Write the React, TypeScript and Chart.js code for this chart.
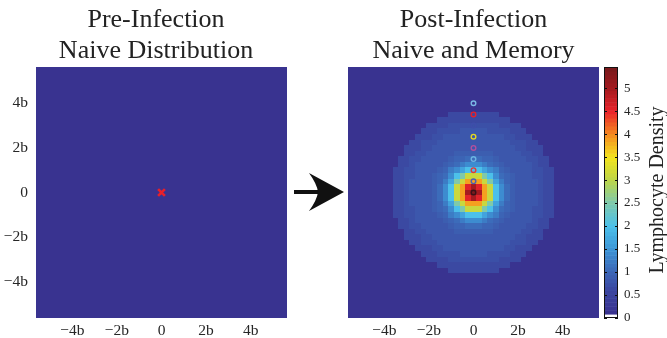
import React, { useEffect, useRef } from 'react';
import { Chart, registerables } from 'chart.js';

Chart.register(...registerables);

// ---------- data ----------
const axisTickValues = [-4, -2, 0, 2, 4];
const axisMin = -5.625;
const axisMax = 5.625;
const cellSize = 0.25;
const gridHalfCount = 22;

const preTitle = ['Pre-Infection', 'Naive Distribution'];
const postTitle = ['Post-Infection', 'Naive and Memory'];
const colorbarLabel = 'Lymphocyte Density';

// uniform naive density before infection
const naiveDensity = 0.1;
// post-infection density by ring (index = round(2 * distance in cells))
const ringDensity = [
  5.4, 5.2, 5.0, 4.55, 3.9, 3.6, 3.15, 2.5, 2.0, 1.7,
  1.45, 1.2, 1.05, 0.95, 0.9, 0.86, 0.84, 0.82, 0.8, 0.8,
  0.82, 0.8, 0.78, 0.75, 0.72, 0.7, 0.68, 0.66, 0.64, 0.62,
];
const outsideDensity = 0.1;

const infectionSite = [{ x: 0, y: 0 }];
const memoryY = [0, 0.5, 1, 1.5, 2, 2.5, 3, 3.5, 4];
const memoryColors = [
  '#3a1218', '#4a62b4', '#e23a3a', '#6cb4e2', '#b2509e',
  '#e4d820', '#3e4eaa', '#e8202a', '#7ab8e6',
];

const colorbarTicks = [0, 0.5, 1, 1.5, 2, 2.5, 3, 3.5, 4, 4.5, 5];
const densityMax = 5.46;
const colorLevels = 64;

// colormap stops [value, r, g, b]
const colorStops: number[][] = [
  [0.09, 57, 49, 143],
  [0.6, 59, 70, 160],
  [1.0, 60, 102, 182],
  [1.5, 61, 149, 214],
  [2.0, 76, 192, 234],
  [2.5, 125, 201, 173],
  [3.0, 188, 213, 74],
  [3.5, 243, 228, 27],
  [4.0, 245, 139, 33],
  [4.5, 233, 35, 42],
  [5.0, 164, 26, 31],
  [5.46, 118, 26, 28],
];

// ---------- helpers ----------
const FONT = '"Liberation Serif", "Times New Roman", serif';
const TEXT_COLOR = '#262626';

function levelColor(level: number): string {
  if (level <= 0) return '#ffffff';
  const v = ((level + 0.5) / colorLevels) * densityMax;
  if (v <= colorStops[0][0]) {
    const s = colorStops[0];
    return `rgb(${s[1]},${s[2]},${s[3]})`;
  }
  for (let i = 1; i < colorStops.length; i++) {
    const a = colorStops[i - 1];
    const b = colorStops[i];
    if (v <= b[0]) {
      const t = (v - a[0]) / (b[0] - a[0]);
      const c = [1, 2, 3].map((k) => Math.round(a[k] + (b[k] - a[k]) * t));
      return `rgb(${c[0]},${c[1]},${c[2]})`;
    }
  }
  const s = colorStops[colorStops.length - 1];
  return `rgb(${s[1]},${s[2]},${s[3]})`;
}

function valueColor(v: number): string {
  const level = Math.max(0, Math.min(colorLevels - 1, Math.floor((v / densityMax) * colorLevels)));
  return levelColor(level);
}

type Cell = { x: number; y: number; v: number };

function buildCells(density: (i: number, j: number) => number): Cell[] {
  const cells: Cell[] = [];
  for (let i = -gridHalfCount; i <= gridHalfCount; i++) {
    for (let j = -gridHalfCount; j <= gridHalfCount; j++) {
      cells.push({ x: i * cellSize, y: j * cellSize, v: density(i, j) });
    }
  }
  return cells;
}

const preCells = buildCells(() => naiveDensity);
const postCells = buildCells((i, j) => {
  const k = Math.round(2 * Math.sqrt(i * i + j * j));
  return k < ringDensity.length ? ringDensity[k] : outsideDensity;
});

function heatmapPlugin(cells: Cell[]) {
  return {
    id: 'heatmap',
    beforeDatasetsDraw(chart: any) {
      const { ctx, chartArea } = chart;
      const xs = chart.scales.x;
      const ys = chart.scales.y;
      ctx.save();
      ctx.beginPath();
      ctx.rect(chartArea.left, chartArea.top, chartArea.right - chartArea.left, chartArea.bottom - chartArea.top);
      ctx.clip();
      for (const c of cells) {
        const x0 = Math.round(xs.getPixelForValue(c.x - cellSize / 2));
        const x1 = Math.round(xs.getPixelForValue(c.x + cellSize / 2));
        const y0 = Math.round(ys.getPixelForValue(c.y + cellSize / 2));
        const y1 = Math.round(ys.getPixelForValue(c.y - cellSize / 2));
        ctx.fillStyle = valueColor(c.v);
        ctx.fillRect(x0, y0, x1 - x0, y1 - y0);
      }
      ctx.restore();
    },
  };
}

function titlePlugin(lines: string[], centerX: number) {
  return {
    id: 'panelTitle',
    afterDraw(chart: any) {
      const ctx = chart.ctx;
      ctx.save();
      ctx.font = `26px ${FONT}`;
      ctx.fillStyle = '#222222';
      ctx.textAlign = 'center';
      ctx.textBaseline = 'alphabetic';
      const baselines = [27, 58];
      lines.forEach((t, i) => ctx.fillText(t, centerX, baselines[i]));
      ctx.restore();
    },
  };
}

const arrowPlugin = {
  id: 'arrow',
  afterDraw(chart: any) {
    const ctx = chart.ctx;
    ctx.save();
    ctx.fillStyle = '#111111';
    ctx.fillRect(294, 190, 24, 4);
    ctx.beginPath();
    ctx.moveTo(344, 192);
    ctx.lineTo(309, 173);
    ctx.quadraticCurveTo(317, 184, 318, 192);
    ctx.quadraticCurveTo(317, 200, 309, 211);
    ctx.closePath();
    ctx.fill();
    ctx.restore();
  },
};

function tickLabel(v: number): string {
  if (v === 0) return '0';
  return (v < 0 ? '\u2212' : '') + Math.abs(v) + 'b';
}

function axisScale(showLabels: boolean, isX: boolean) {
  return {
    type: 'linear',
    min: axisMin,
    max: axisMax,
    display: true,
    grid: { display: false, drawTicks: false },
    border: { display: false },
    ticks: {
      font: { family: FONT, size: 15.5 },
      color: showLabels ? TEXT_COLOR : 'rgba(0,0,0,0)',
      padding: isX ? 4 : 8,
      maxRotation: 0,
      callback: (v: any) => (showLabels ? tickLabel(Number(v)) : ''),
    },
    afterBuildTicks: (s: any) => {
      s.ticks = axisTickValues.map((v) => ({ value: v }));
    },
    afterFit: (s: any) => {
      if (isX) s.height = 20;
      else s.width = 36;
    },
  };
}

const baseOptions = {
  responsive: false,
  animation: false,
  events: [],
  plugins: { legend: { display: false }, tooltip: { enabled: false }, title: { display: false } },
};

function ChartCanvas({ width, left, config }: { width: number; left: number; config: () => any }) {
  const ref = useRef<HTMLCanvasElement | null>(null);
  useEffect(() => {
    if (!ref.current) return;
    const chart = new Chart(ref.current, config());
    return () => chart.destroy();
  }, []);
  return (
    <canvas
      ref={ref}
      width={width}
      height={338}
      style={{ position: 'absolute', left, top: 0, width, height: 338 }}
    />
  );
}

const preConfig = () => ({
  type: 'scatter',
  data: {
    datasets: [
      {
        data: infectionSite,
        pointStyle: 'crossRot',
        pointRadius: 4.8,
        borderWidth: 2.6,
        borderColor: '#e8202a',
        backgroundColor: '#e8202a',
      },
    ],
  },
  options: {
    ...baseOptions,
    layout: { padding: { top: 67, right: 59, left: 0, bottom: 0 } },
    scales: { x: axisScale(true, true), y: axisScale(true, false) },
  },
  plugins: [heatmapPlugin(preCells), titlePlugin(preTitle, 156), arrowPlugin],
});

const postLeft = 312;
const postWidth = 328;

const postConfig = () => ({
  type: 'scatter',
  data: {
    datasets: [
      {
        data: memoryY.map((y) => ({ x: 0, y })),
        pointStyle: 'circle',
        pointRadius: 2.3,
        borderWidth: 1.4,
        borderColor: memoryColors,
        backgroundColor: 'rgba(0,0,0,0)',
      },
    ],
  },
  options: {
    ...baseOptions,
    layout: { padding: { top: 67, right: postLeft + postWidth - 599, left: 0, bottom: 0 } },
    scales: { x: axisScale(true, true), y: axisScale(false, false) },
  },
  plugins: [heatmapPlugin(postCells), titlePlugin(postTitle, 473.5 - postLeft)],
});

const colorbarPlugin = {
  id: 'colorbar',
  beforeDatasetsDraw(chart: any) {
    const { ctx, chartArea } = chart;
    const ys = chart.scales.y;
    ctx.save();
    for (let l = 0; l < colorLevels; l++) {
      const v0 = (l / colorLevels) * densityMax;
      const v1 = ((l + 1) / colorLevels) * densityMax;
      const y0 = ys.getPixelForValue(v1);
      const y1 = ys.getPixelForValue(v0);
      ctx.fillStyle = levelColor(l);
      ctx.fillRect(chartArea.left, y0, chartArea.right - chartArea.left, y1 - y0 + 0.5);
    }
    ctx.strokeStyle = '#111111';
    ctx.lineWidth = 1;
    ctx.strokeRect(chartArea.left + 0.5, chartArea.top + 0.5, chartArea.right - chartArea.left - 1, chartArea.bottom - chartArea.top - 1);
    ctx.beginPath();
    for (const t of colorbarTicks) {
      const y = Math.round(ys.getPixelForValue(t)) + 0.5;
      ctx.moveTo(chartArea.right - 3, y);
      ctx.lineTo(chartArea.right, y);
      ctx.moveTo(chartArea.left, y);
      ctx.lineTo(chartArea.left + 3, y);
    }
    ctx.stroke();
    ctx.font = `20px ${FONT}`;
    ctx.fillStyle = '#222222';
    ctx.textAlign = 'center';
    ctx.textBaseline = 'middle';
    ctx.translate(58, 190);
    ctx.rotate(-Math.PI / 2);
    ctx.fillText(colorbarLabel, 0, 0);
    ctx.restore();
  },
};

const colorbarConfig = () => ({
  type: 'scatter',
  data: { datasets: [{ data: [] }] },
  options: {
    ...baseOptions,
    layout: { padding: { top: 67, right: 0, left: 4, bottom: 20 } },
    scales: {
      x: { type: 'linear', display: false, min: 0, max: 1 },
      y: {
        type: 'linear',
        position: 'right',
        min: 0,
        max: densityMax,
        grid: { display: false, drawTicks: false },
        border: { display: false },
        ticks: {
          font: { family: FONT, size: 13 },
          color: TEXT_COLOR,
          padding: 6,
          callback: (v: any) => String(v),
        },
        afterBuildTicks: (s: any) => {
          s.ticks = colorbarTicks.map((v) => ({ value: v }));
        },
        afterFit: (s: any) => {
          s.width = 49;
        },
      },
    },
  },
  plugins: [colorbarPlugin],
});

export default function App() {
  return (
    <div style={{ position: 'absolute', left: 0, top: 0, width: 667, height: 338, background: '#ffffff' }}>
      <ChartCanvas width={346} left={0} config={preConfig} />
      <ChartCanvas width={postWidth} left={postLeft} config={postConfig} />
      <ChartCanvas width={67} left={600} config={colorbarConfig} />
    </div>
  );
}
